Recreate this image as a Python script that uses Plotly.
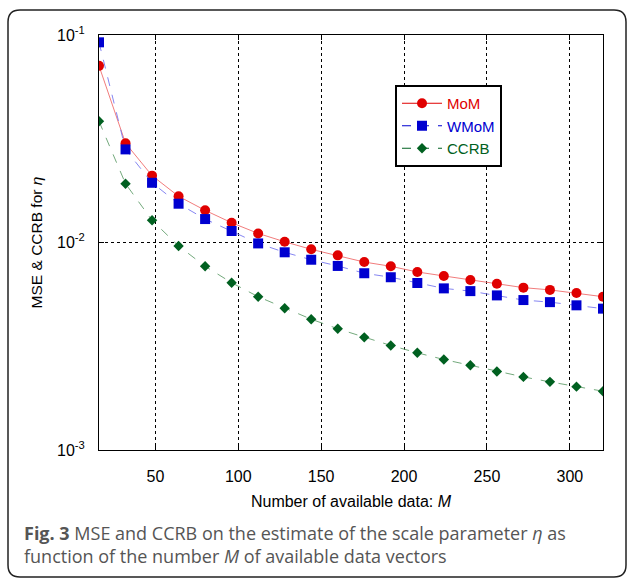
import plotly.graph_objects as go

M = [16, 32, 48, 64, 80, 96, 112, 128, 144, 160, 176, 192, 208, 224, 240, 256, 272, 288, 304, 320]
mom = [0.0710, 0.0301, 0.0210, 0.0167, 0.01429, 0.01245, 0.01106, 0.01008, 0.00927, 0.00867,
       0.00805, 0.00768, 0.00721, 0.00690, 0.00660, 0.00633, 0.00606, 0.00591, 0.00571, 0.00548]
wmom = [0.0922, 0.0281, 0.0194, 0.01538, 0.01297, 0.01136, 0.00990, 0.00897, 0.00826, 0.00771,
        0.00711, 0.00680, 0.00638, 0.00601, 0.00583, 0.00556, 0.00528, 0.00516, 0.00498, 0.00480]
ccrb = [0.0384, 0.0192, 0.01279, 0.00962, 0.00768, 0.00640, 0.00548, 0.00482, 0.00427, 0.00384,
        0.00349, 0.00319, 0.00294, 0.00273, 0.00256, 0.00239, 0.00225, 0.00213, 0.00202, 0.00192]
xticks = [50, 100, 150, 200, 250, 300]
yticks = [0.001, 0.01, 0.1]
ytext = ["10<sup>-3</sup>", "10<sup>-2</sup>", "10<sup>-1</sup>"]

W, H = 627, 580
L, R, T, B = 99, 24, 35, 130
pw, ph = W - L - R, H - T - B

def px(x):
    return (x - L) / pw

def py(y):
    return 1 - (y - T) / ph

FONT = "Liberation Sans"
RED, BLUE, GREEN = "#e00000", "#0000d0", "#006020"
series = [
    ("MoM", mom, RED, "rgba(240,110,110,0.9)", "solid", "circle", 10),
    ("WMoM", wmom, BLUE, "rgba(120,120,240,0.9)", "dash", "square", 10),
    ("CCRB", ccrb, GREEN, "rgba(100,160,110,0.9)", "dash", "diamond", 8),
]

fig = go.Figure()
for name, vals, c, lc, dash, sym, sz in series:
    fig.add_trace(go.Scatter(x=M, y=vals, mode="lines+markers", showlegend=False,
                             line=dict(color=lc, width=1, dash=dash),
                             marker=dict(symbol=sym, size=sz, color=c)))
for name, vals, c, lc, dash, sym, sz in series:
    fig.add_trace(go.Scatter(x=[None], y=[None], mode="lines+markers",
                             name=f"<span style='color:{c}'>{name}</span>",
                             line=dict(color=c, width=1, dash=dash),
                             marker=dict(symbol=sym, size=sz, color=c)))

axis_common = dict(showline=True, linecolor="black", linewidth=1, mirror="ticks",
                   ticks="inside", ticklen=5, tickcolor="black",
                   showgrid=True, gridcolor="black", griddash="dot", gridwidth=1,
                   zeroline=False,
                   tickfont=dict(family=FONT, size=16, color="black"))

fig.update_xaxes(range=[16, 320], tickvals=xticks, ticklabelstandoff=12,
                 title=dict(text="Number of available data: <i>M</i>", standoff=11,
                            font=dict(family=FONT, size=16, color="black")),
                 **axis_common)
fig.update_yaxes(type="log", range=[-3, -1], tickvals=yticks, ticktext=ytext,
                 ticklabelstandoff=10,
                 title=dict(text="MSE &amp; CCRB for <i>η</i>", standoff=10,
                            font=dict(family=FONT, size=15.5, color="black")),
                 **axis_common)

shapes = []
l0, t0, r0, b0, rad = 8, 10, 626, 577, 12
path = (f"M {px(l0 + rad)},{py(t0)} L {px(r0 - rad)},{py(t0)} "
        f"Q {px(r0)},{py(t0)} {px(r0)},{py(t0 + rad)} "
        f"L {px(r0)},{py(b0 - rad)} Q {px(r0)},{py(b0)} {px(r0 - rad)},{py(b0)} "
        f"L {px(l0 + rad)},{py(b0)} Q {px(l0)},{py(b0)} {px(l0)},{py(b0 - rad)} "
        f"L {px(l0)},{py(t0 + rad)} Q {px(l0)},{py(t0)} {px(l0 + rad)},{py(t0)} Z")
shapes.append(dict(type="path", xref="paper", yref="paper", path=path,
                   line=dict(color="#222222", width=1.5)))

caption = ("<b>Fig. 3</b> MSE and CCRB on the estimate of the scale parameter <i>η</i> as<br>"
           "function of the number <i>M</i> of available data vectors")
annotations = [
    dict(xref="paper", yref="paper", x=px(22), y=py(544), xanchor="left", yanchor="middle",
         showarrow=False, align="left", text=caption,
         font=dict(family="Open Sans", size=18, color="#555555")),
]

fig.update_layout(
    width=W, height=H, margin=dict(l=L, r=R, t=T, b=B),
    paper_bgcolor="white", plot_bgcolor="white",
    shapes=shapes, annotations=annotations,
    legend=dict(x=px(395), y=py(85), xanchor="left", yanchor="top",
                bordercolor="black", borderwidth=2, bgcolor="white",
                font=dict(family=FONT, size=15), tracegroupgap=0,
                itemwidth=40),
)

fig.write_html("out.html")
